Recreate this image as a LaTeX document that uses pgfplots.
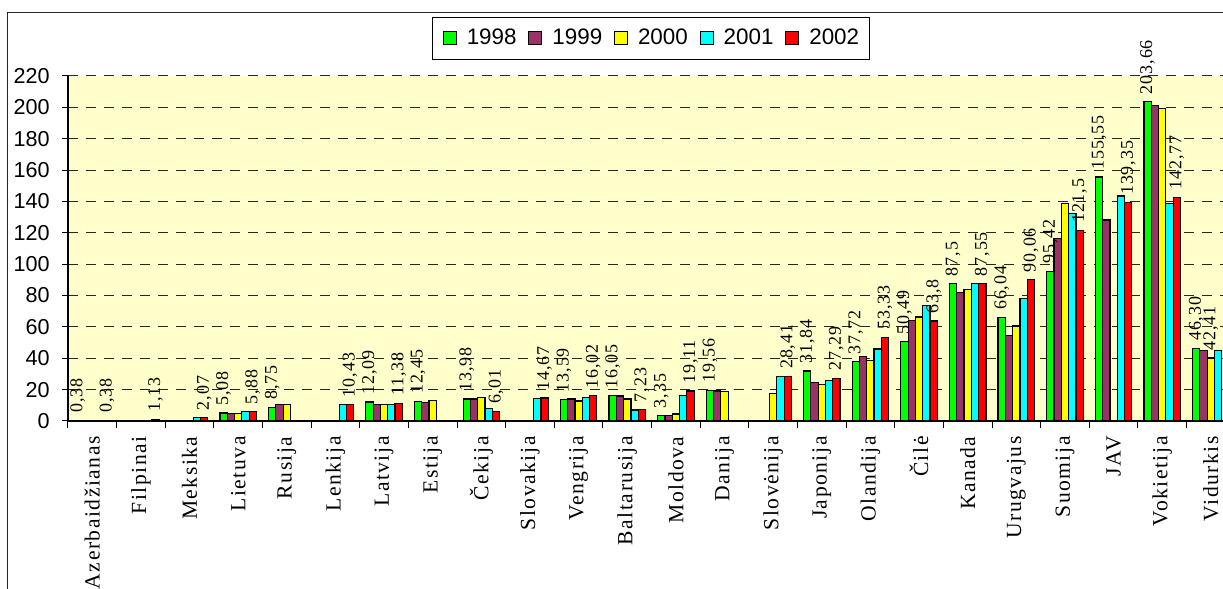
\documentclass[border=0pt]{standalone}
\usepackage{fontspec}
\setmainfont{Liberation Sans}
\newfontfamily\serifcat[LetterSpace=7]{Liberation Serif}
\newfontfamily\seriflab[LetterSpace=5]{Liberation Serif}
\usepackage{pgfplots}
\pgfplotsset{compat=1.18}
\definecolor{c98}{HTML}{00FF00}
\definecolor{c99}{HTML}{993366}
\definecolor{c00}{HTML}{FFFF00}
\definecolor{c01}{HTML}{00FFFF}
\definecolor{c02}{HTML}{FF0000}
\definecolor{bgy}{HTML}{FFFFCC}
\pgfplotsset{sqlegend/.style={legend image code/.code={\path (-1.8pt,0pt) (9.5pt,0pt); \draw[##1, draw=black, line width=0.5pt] (0pt,-3.25pt) rectangle (6.5pt,3.25pt);}}}
\begin{document}
\begin{tikzpicture}
\useasboundingbox (0,0) rectangle (611.5pt,294.5pt);
\draw[line width=0.6pt, black!85] (3.65pt,-5pt) -- (3.65pt,288.15pt) -- (620pt,288.15pt);
\begin{axis}[
  at={(34pt,84pt)}, anchor=south west,
  scale only axis, width=577.5pt, height=172.5pt,
  xmin=-0.5, xmax=23.25, ymin=0, ymax=220,
  axis x line*=bottom, axis y line*=left,
  axis line style={black, line width=0.6pt},
  axis background/.style={fill=bgy},
  ytick={0,20,...,220},
  ymajorgrids,
  major grid style={black!85, line width=0.5pt, dash pattern=on 5pt off 4pt},
  xtick={0,...,23},
  xticklabels={Azerbaidžianas,Filpinai,Meksika,Lietuva,Rusija,Lenkija,Latvija,Estija,Čekija,Slovakija,Vengrija,Baltarusija,Moldova,Danija,Slovėnija,Japonija,Olandija,Čilė,Kanada,Urugvajus,Suomija,JAV,Vokietija,Vidurkis},
  major x tick style={draw=none},
  minor xtick={-0.5,0.5,...,22.5},
  minor x tick style={black, line width=0.5pt},
  minor tick length=3.5pt,
  major tick length=3pt,
  tick align=outside,
  y tick style={black, line width=0.5pt},
  /pgf/number format/assume math mode=true,
  yticklabel style={font=\fontsize{10.8}{12}\selectfont, inner sep=0pt},
  yticklabel shift=6pt,
  xticklabel style={font=\serifcat\fontsize{10.8}{12}\selectfont, rotate=90, anchor=east, inner sep=0pt},
  xticklabel shift=4.5pt,
  ybar=0pt, bar width=3.65pt,
  every axis plot/.append style={draw=black, line width=0.6pt},
  nodes near coords={\pgfplotspointmeta},
  point meta=explicit symbolic,
  every node near coord/.append style={font=\seriflab\fontsize{9}{10}\selectfont, rotate=90, anchor=west, inner sep=0pt, inner xsep=3.5pt, text=black},
  legend columns=5,
  legend cell align=left,
  legend style={at={(0.5048,1.1087)}, anchor=center, draw=black, line width=0.5pt, fill=white,
    font=\fontsize{11.2}{13}\selectfont, inner xsep=3pt, inner ysep=4pt,
    /tikz/every even column/.append style={column sep=2pt}},
]
\addplot[fill=c98, sqlegend] coordinates {(0,0.38)[0,38] (3,5.08)[5,08] (4,8.75)[8,75] (6,12.09)[12,09] (7,12.45)[12,45] (8,13.98)[13,98] (10,13.59)[13,59] (11,16.05)[16,05] (12,3.35)[3,35] (13,19.56)[19,56] (15,31.84)[31,84] (16,37.72)[37,72] (17,50.49)[50,49] (18,87.5)[87,5] (19,66.04)[66,04] (20,95.42)[95,42] (21,155.55)[155,55] (22,203.66)[203,66] (23,46.3)[46,30]};
\addplot[fill=c99, sqlegend] coordinates {(3,5.0)[] (4,10.6)[] (6,10.3)[] (7,11.7)[] (8,14.0)[] (10,14.0)[] (11,16.0)[] (12,3.3)[] (13,19.1)[] (15,24.4)[] (16,41.2)[] (17,64.2)[] (18,81.8)[] (19,54.6)[] (20,116.3)[] (21,128.2)[] (22,201.3)[] (23,44.9)[]};
\addplot[fill=c00, sqlegend] coordinates {(3,5.0)[] (4,10.6)[] (6,10.3)[] (7,12.9)[] (8,15.1)[] (10,12.7)[] (11,14.0)[] (12,4.5)[] (13,18.7)[] (14,17.6)[] (15,23.4)[] (16,38.4)[] (17,66.3)[] (18,84.0)[] (19,60.6)[] (20,138.8)[] (22,199.4)[] (23,40.2)[42,41]};
\addplot[fill=c01, sqlegend] coordinates {(2,2.07)[] (3,5.9)[] (5,10.43)[] (6,10.3)[] (8,8.0)[] (9,14.6)[] (10,15.1)[] (11,7.0)[] (12,16.3)[] (14,28.4)[] (15,25.7)[] (16,45.9)[] (17,73.8)[] (18,87.5)[] (19,78.2)[] (20,132.4)[] (21,143.5)[] (22,138.6)[] (23,44.8)[]};
\addplot[fill=c02, sqlegend] coordinates {(0,0.38)[0,38] (1,1.13)[1,13] (2,2.07)[2,07] (3,5.88)[5,88] (5,10.43)[10,43] (6,11.38)[11,38] (8,6.01)[6,01] (9,14.67)[14,67] (10,16.02)[16,02] (11,7.23)[7,23] (12,19.11)[19,11] (14,28.41)[28,41] (15,27.29)[27,29] (16,53.33)[53,33] (17,63.8)[63,8] (18,87.55)[87,55] (19,90.06)[90,06] (20,121.5)[121,5] (21,139.35)[139,35] (22,142.77)[142,77]};
\legend{1998,1999,2000,2001,2002}
\end{axis}
\end{tikzpicture}
\end{document}
